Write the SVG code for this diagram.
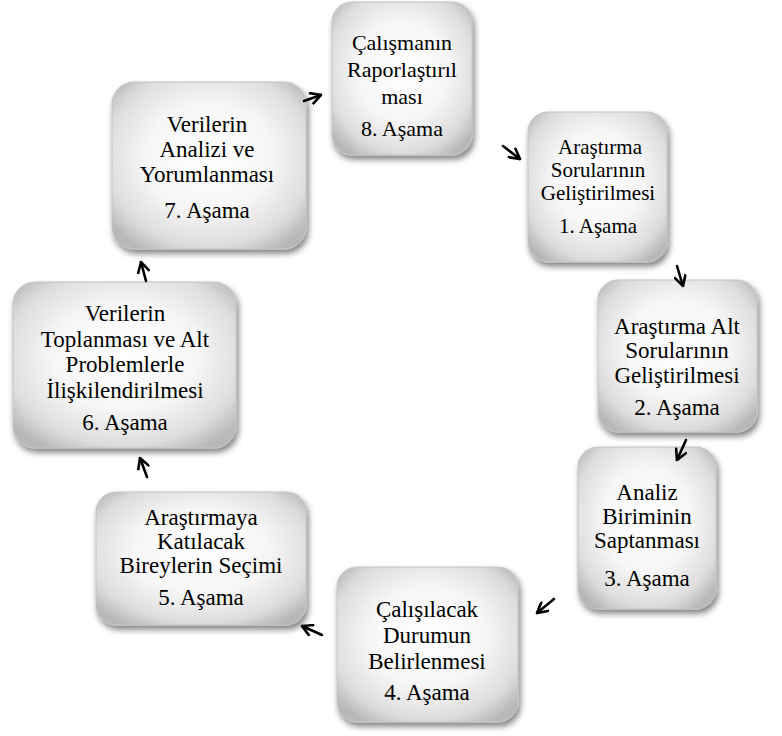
<svg xmlns="http://www.w3.org/2000/svg" width="782" height="736" viewBox="0 0 782 736">
<defs>
<radialGradient id="g" cx="50%" cy="45%" r="65%">
<stop offset="0" stop-color="#ffffff"/>
<stop offset="0.5" stop-color="#f6f6f6"/>
<stop offset="0.82" stop-color="#dddddd"/>
<stop offset="1" stop-color="#b8b8b8"/>
</radialGradient>
<filter id="sh" x="-15%" y="-15%" width="135%" height="135%">
<feGaussianBlur in="SourceAlpha" stdDeviation="3"/>
<feOffset dx="2" dy="4" result="b"/>
<feComponentTransfer><feFuncA type="linear" slope="0.5"/></feComponentTransfer>
<feMerge><feMergeNode/><feMergeNode in="SourceGraphic"/></feMerge>
</filter>
<marker id="ah" viewBox="0 0 12 12" refX="11" refY="6" markerWidth="13" markerHeight="13" markerUnits="userSpaceOnUse" orient="auto">
<path d="M1,0.5 L11,6 L1,11.5" fill="none" stroke="#000" stroke-width="2.4"/>
</marker>
</defs>
<style>
.box{fill:url(#g);stroke:#c4c4c4;stroke-width:1;filter:url(#sh)}
text{font-family:"Liberation Serif","Times New Roman",serif;font-size:23px;fill:#000;text-anchor:middle}
.sm{font-size:22px}
.xs{font-size:21px}
.arr{stroke:#000;stroke-width:2.6;fill:none;marker-end:url(#ah);stroke-linecap:round}
</style>
<rect width="782" height="736" fill="#fff"/>
<g id="node8">
<rect class="box" x="332" y="2" width="140" height="153" rx="20"/>
<text class="sm" x="402" y="50">Çalışmanın</text>
<text class="sm" x="402" y="77">Raporlaştırıl</text>
<text class="sm" x="402" y="104">ması</text>
<text class="sm" x="402" y="136">8. Aşama</text>
</g>
<g id="node1">
<rect class="box" x="528" y="112" width="139" height="150" rx="20"/>
<text class="xs" x="600" y="154">Araştırma</text>
<text class="xs" x="598" y="177">Sorularının</text>
<text class="xs" x="598" y="200">Geliştirilmesi</text>
<text class="xs" x="598" y="233">1. Aşama</text>
</g>
<g id="node2">
<rect class="box" x="598" y="280" width="159" height="152" rx="20"/>
<text x="677" y="334">Araştırma Alt</text>
<text x="677" y="358">Sorularının</text>
<text x="677" y="383">Geliştirilmesi</text>
<text x="677" y="415">2. Aşama</text>
</g>
<g id="node3">
<rect class="box" x="578" y="447" width="138" height="162" rx="20"/>
<text x="647" y="500">Analiz</text>
<text x="647" y="524">Biriminin</text>
<text x="647" y="548">Saptanması</text>
<text x="647" y="586">3. Aşama</text>
</g>
<g id="node4">
<rect class="box" x="337" y="567" width="181" height="155" rx="20"/>
<text x="427" y="617">Çalışılacak</text>
<text x="427" y="643">Durumun</text>
<text x="427" y="669">Belirlenmesi</text>
<text x="427" y="700">4. Aşama</text>
</g>
<g id="node5">
<rect class="box" x="96" y="492" width="210" height="133" rx="20"/>
<text x="201" y="525">Araştırmaya</text>
<text x="201" y="549">Katılacak</text>
<text x="201" y="573">Bireylerin Seçimi</text>
<text x="201" y="605">5. Aşama</text>
</g>
<g id="node6">
<rect class="box" x="13" y="282" width="223" height="166" rx="22"/>
<text x="125" y="321">Verilerin</text>
<text x="125" y="347">Toplanması ve Alt</text>
<text x="125" y="372">Problemlerle</text>
<text x="125" y="398">İlişkilendirilmesi</text>
<text x="125" y="430">6. Aşama</text>
</g>
<g id="node7">
<rect class="box" x="112" y="82" width="194" height="167" rx="22"/>
<text x="207" y="132">Verilerin</text>
<text x="207" y="157">Analizi ve</text>
<text x="207" y="182">Yorumlanması</text>
<text x="207" y="218">7. Aşama</text>
</g>
<g id="connectors">
<line class="arr" x1="304" y1="101" x2="321" y2="95"/>
<line class="arr" x1="503" y1="146" x2="520" y2="159"/>
<line class="arr" x1="677" y1="266" x2="683" y2="286"/>
<line class="arr" x1="686" y1="440" x2="677" y2="460"/>
<line class="arr" x1="554" y1="599" x2="537" y2="613"/>
<line class="arr" x1="322" y1="635" x2="302" y2="626"/>
<line class="arr" x1="147" y1="477" x2="140" y2="458"/>
<line class="arr" x1="146" y1="281" x2="141" y2="262"/>
</g>
</svg>
